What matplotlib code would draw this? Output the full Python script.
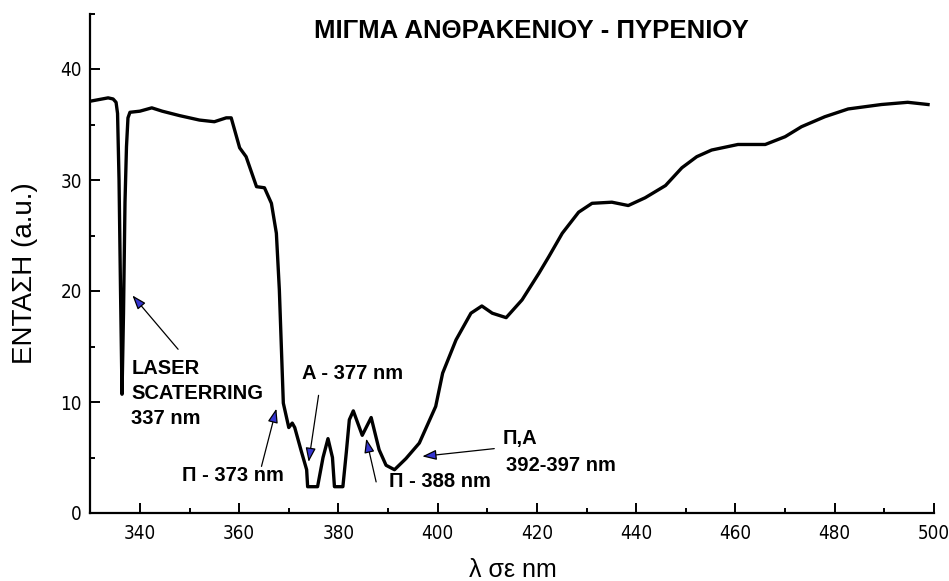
import numpy as np
import matplotlib
matplotlib.use('Agg')
from matplotlib import pyplot as plt
from matplotlib import font_manager

# spectrum (wavelength nm, intensity a.u.)
wavelength = [330.0, 333.6, 334.6, 335.2, 335.5, 335.8, 336.1, 336.4, 336.7, 337.0,
              337.3, 337.6, 338.0, 340.0, 342.4, 344.5, 348.0, 352.0, 355.0, 357.4,
              358.4, 360.1, 361.4, 363.5, 365.1, 366.5, 367.5, 368.1, 368.9, 370.0,
              370.7, 371.2, 372.5, 373.6, 373.8, 375.8, 376.9, 377.9, 378.8, 379.2,
              380.9, 381.6, 382.2, 383.0, 384.8, 386.6, 388.2, 389.6, 391.3, 393.6,
              396.3, 399.6, 401.0, 403.7, 406.7, 408.9, 411.0, 413.8, 417.0, 420.4,
              422.4, 425.1, 428.4, 431.1, 435.1, 438.4, 441.8, 445.9, 449.2, 452.2,
              455.2, 460.5, 466.0, 470.0, 473.3, 478.0, 482.7, 489.4, 494.7, 498.8]
intensity = [37.1, 37.4, 37.3, 37.0, 36.0, 30.0, 20.0, 10.7, 18.0, 28.0,
             33.0, 35.6, 36.1, 36.2, 36.5, 36.2, 35.8, 35.4, 35.25, 35.6,
             35.6, 32.9, 32.1, 29.4, 29.3, 27.9, 25.2, 20.1, 9.9, 7.7,
             8.1, 7.7, 5.6, 3.9, 2.37, 2.37, 5.0, 6.7, 5.0, 2.37,
             2.37, 5.5, 8.4, 9.2, 7.0, 8.6, 5.7, 4.3, 3.9, 4.9,
             6.3, 9.6, 12.6, 15.6, 18.0, 18.65, 18.0, 17.6, 19.2, 21.6,
             23.1, 25.2, 27.1, 27.9, 28.0, 27.7, 28.4, 29.5, 31.1, 32.1,
             32.7, 33.2, 33.2, 33.9, 34.8, 35.7, 36.4, 36.8, 37.0, 36.8]

title = 'ΜΙΓΜΑ ΑΝΘΡΑΚΕΝΙΟΥ - ΠΥΡΕΝΙΟΥ'
x_label = 'λ σε nm'
y_label = 'ΕΝΤΑΣΗ (a.u.)'

# (text, text xy, arrow tail, arrow tip)
notes = [
    ('LASER\nSCATERRING\n337 nm', (338.3, 10.8), (347.7, 14.75), (338.5, 19.6)),
    ('Π - 373 nm', (348.4, 3.4), (364.5, 4.2), (367.5, 9.4)),
    ('A - 377 nm', (372.7, 12.6), (376.0, 10.6), (374.0, 4.6)),
    ('Π - 388 nm', (390.25, 2.8), (387.6, 2.8), (385.6, 6.7)),
    ('Π,A', (413.0, 6.7), (411.4, 5.8), (396.9, 5.1)),
]
extra_text = ('392-397 nm', (413.7, 4.3))

sans = ['Liberation Sans', 'DejaVu Sans']
plt.rcParams['font.family'] = sans


def narrow_font():
    # look for a condensed sans face for the tick numbers
    best = None
    for f in font_manager.fontManager.ttflist:
        name = f.name
        cond = ('Narrow' in name or 'Condensed' in name
                or f.stretch in ('condensed', 'semi-condensed', 'extra-condensed'))
        if not cond or f.weight not in (400, 'normal', 'regular') or f.style != 'normal':
            continue
        rank = 0 if 'Liberation' in name else 1 if 'Arimo' in name else 2
        if best is None or rank < best[0]:
            best = (rank, f.fname)
    if best is None:
        return None
    return font_manager.FontProperties(fname=best[1])


tick_font = narrow_font()
tick_size = 13.5 if tick_font is not None else 11.5

fig = plt.figure(figsize=(9.49, 5.81), dpi=100)
ax = fig.add_axes([90.25/949, 68/581, (934-90.25)/949, (513-13.5)/581])

ax.plot(wavelength, intensity, color='black', lw=2.4, solid_joinstyle='round')

ax.set_xlim(330, 500)
ax.set_ylim(0, 45)
ax.set_xticks(np.arange(340, 501, 20))
ax.set_xticks(np.arange(330, 501, 10), minor=True)
ax.set_yticks(np.arange(0, 41, 10))
ax.set_yticks(np.arange(0, 46, 5), minor=True)
ax.spines['top'].set_visible(False)
ax.spines['right'].set_visible(False)
for s in ['left', 'bottom']:
    ax.spines[s].set_linewidth(1.6)
ax.tick_params(which='major', direction='in', length=7.2, width=1.4, labelsize=tick_size)
ax.tick_params(axis='x', which='major', pad=8)
ax.tick_params(axis='y', which='major', pad=6)
ax.tick_params(which='minor', direction='in', length=3.6, width=1.4)
if tick_font is not None:
    for lab in ax.get_xticklabels() + ax.get_yticklabels():
        lab.set_fontproperties(tick_font)
        lab.set_fontsize(tick_size)

fig.text(513/949, 1 - 570/581, x_label, ha='center', va='center', fontsize=18, family=sans)
fig.text(25/949, 1 - 273/581, y_label, ha='center', va='center', rotation=90, fontsize=20, family=sans)
fig.text(531.5/949, 1 - 31/581, title, ha='center', va='center', fontsize=18.5,
         fontweight='bold', family=sans)

for txt, xy, tail, tip in notes:
    ax.text(xy[0], xy[1], txt, ha='left', va='center', fontsize=14.5, fontweight='bold',
            linespacing=1.4)
    ax.annotate('', xy=tip, xytext=tail,
                arrowprops=dict(arrowstyle='-|>,head_length=0.5,head_width=0.18',
                                mutation_scale=17, fc='#3535d0', ec='black', lw=0.9,
                                shrinkA=0, shrinkB=0))
ax.text(extra_text[1][0], extra_text[1][1], extra_text[0], ha='left', va='center',
        fontsize=14.5, fontweight='bold')

fig.savefig('out.png', dpi=100)
